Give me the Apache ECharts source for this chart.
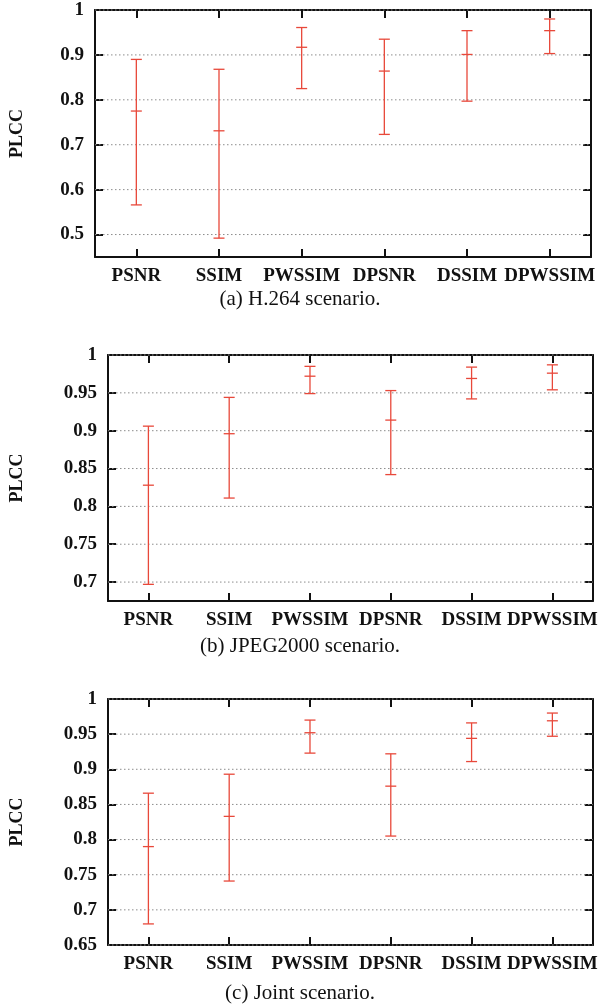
<!DOCTYPE html>
<html>
<head>
<meta charset="utf-8">
<script src="https://cdn.jsdelivr.net/npm/echarts@6/dist/echarts.min.js"></script>
<style>
  html, body { margin: 0; padding: 0; background: #fff; }
  #main { width: 600px; height: 1007px; }
</style>
</head>
<body>
<div id="main"></div>
<script>
var categories = ['PSNR', 'SSIM', 'PWSSIM', 'DPSNR', 'DSSIM', 'DPWSSIM'];

// (a) H.264
var h264Low  = [0.566, 0.492, 0.825, 0.723, 0.797, 0.903];
var h264Mid  = [0.775, 0.731, 0.917, 0.864, 0.901, 0.954];
var h264High = [0.890, 0.868, 0.961, 0.935, 0.954, 0.980];
var h264Ticks = [0.5, 0.6, 0.7, 0.8, 0.9, 1];

// (b) JPEG2000
var jpegLow  = [0.697, 0.811, 0.949, 0.842, 0.942, 0.954];
var jpegMid  = [0.828, 0.896, 0.972, 0.914, 0.969, 0.976];
var jpegHigh = [0.906, 0.944, 0.985, 0.953, 0.984, 0.987];
var jpegTicks = [0.7, 0.75, 0.8, 0.85, 0.9, 0.95, 1];

// (c) Joint
var jointLow  = [0.680, 0.741, 0.923, 0.805, 0.911, 0.947];
var jointMid  = [0.790, 0.833, 0.952, 0.876, 0.944, 0.969];
var jointHigh = [0.866, 0.893, 0.970, 0.922, 0.966, 0.980];
var jointTicks = [0.65, 0.7, 0.75, 0.8, 0.85, 0.9, 0.95, 1];

var captions = ['(a) H.264 scenario.', '(b) JPEG2000 scenario.', '(c) Joint scenario.'];

var chart = echarts.init(document.getElementById('main'));

var serif = '"Liberation Serif", "Times New Roman", serif';
var barColor = '#e8483a';

var panels = [
  { low: h264Low, mid: h264Mid, high: h264High, ticks: h264Ticks, min: 0.45,
    grid: { left: 93, right: 9, top: 10, height: 247 }, nameGap: 69, capY: 299 },
  { low: jpegLow, mid: jpegMid, high: jpegHigh, ticks: jpegTicks, min: 0.675,
    grid: { left: 101, right: 5, top: 355, height: 246 }, nameGap: 82, capY: 646 },
  { low: jointLow, mid: jointMid, high: jointHigh, ticks: jointTicks, min: 0.65,
    grid: { left: 101, right: 5, top: 699, height: 246 }, nameGap: 82, capY: 993 }
];

function errorBar(params, api) {
  var x = api.value(0);
  var lo = api.coord([x, api.value(1)]);
  var md = api.coord([x, api.value(2)]);
  var hi = api.coord([x, api.value(3)]);
  var w = 5.5;
  var st = { stroke: barColor, lineWidth: 1.3 };
  return {
    type: 'group',
    children: [
      { type: 'line', shape: { x1: lo[0], y1: lo[1], x2: hi[0], y2: hi[1] }, style: st },
      { type: 'line', shape: { x1: lo[0] - w, y1: lo[1], x2: lo[0] + w, y2: lo[1] }, style: st },
      { type: 'line', shape: { x1: hi[0] - w, y1: hi[1], x2: hi[0] + w, y2: hi[1] }, style: st },
      { type: 'line', shape: { x1: md[0] - w, y1: md[1], x2: md[0] + w, y2: md[1] }, style: st }
    ]
  };
}

function gridLine(params, api) {
  var cs = params.coordSys;
  var y = api.coord([0, api.value(1)])[1];
  return {
    type: 'line',
    shape: { x1: cs.x, y1: y, x2: cs.x + cs.width, y2: y },
    style: { stroke: '#8c8c8c', lineWidth: 1, lineDash: [1.5, 2.5] }
  };
}

var grids = [], xAxes = [], yAxes = [], series = [], graphics = [];
var axisLine = { show: true, lineStyle: { color: '#111', width: 2 } };
var tickStyle = { color: '#111', width: 2 };

panels.forEach(function (p, k) {
  grids.push(p.grid);
  // bottom and mirrored top category axes
  xAxes.push({
    type: 'category', gridIndex: k, data: categories, position: 'bottom',
    axisLine: axisLine,
    axisTick: { show: true, inside: true, alignWithLabel: true, length: 8, lineStyle: tickStyle },
    axisLabel: { interval: 0, margin: 10, color: '#111', fontFamily: serif, fontWeight: 'bold', fontSize: 19 }
  });
  xAxes.push({
    type: 'category', gridIndex: k, data: categories, position: 'top',
    axisLine: axisLine,
    axisTick: { show: true, inside: true, alignWithLabel: true, length: 8, lineStyle: tickStyle },
    axisLabel: { show: false }
  });
  // left and mirrored right value axes
  yAxes.push({
    type: 'value', gridIndex: k, min: p.min, max: 1, position: 'left',
    name: 'PLCC', nameLocation: 'middle', nameGap: p.nameGap, nameRotate: 90,
    nameTextStyle: { color: '#111', fontFamily: serif, fontWeight: 'bold', fontSize: 18 },
    axisLine: axisLine,
    splitLine: { show: false },
    axisTick: { show: true, inside: true, length: 8, lineStyle: tickStyle, customValues: p.ticks },
    axisLabel: {
      margin: 11, color: '#111', fontFamily: serif, fontWeight: 'bold', fontSize: 19,
      customValues: p.ticks,
      formatter: function (v) { return String(+v.toFixed(2)); }
    }
  });
  yAxes.push({
    type: 'value', gridIndex: k, min: p.min, max: 1, position: 'right',
    axisLine: axisLine,
    splitLine: { show: false },
    axisTick: { show: true, inside: true, length: 8, lineStyle: tickStyle, customValues: p.ticks },
    axisLabel: { show: false }
  });

  series.push({
    type: 'custom', xAxisIndex: 2 * k, yAxisIndex: 2 * k, silent: true, z: 1,
    renderItem: gridLine,
    data: p.ticks.map(function (t) { return [0, t]; })
  });
  series.push({
    type: 'custom', xAxisIndex: 2 * k, yAxisIndex: 2 * k, z: 3,
    renderItem: errorBar,
    encode: { x: 0, y: [1, 2, 3] },
    data: categories.map(function (c, i) { return [i, p.low[i], p.mid[i], p.high[i]]; })
  });

  graphics.push({
    type: 'text', x: 300, y: p.capY,
    style: {
      text: captions[k], fill: '#111', font: '21px ' + serif,
      textAlign: 'center', textVerticalAlign: 'middle'
    }
  });
});

var option = {
  backgroundColor: '#fff',
  animation: false,
  grid: grids,
  xAxis: xAxes,
  yAxis: yAxes,
  series: series,
  graphic: graphics
};

chart.setOption(option);
</script>
</body>
</html>
